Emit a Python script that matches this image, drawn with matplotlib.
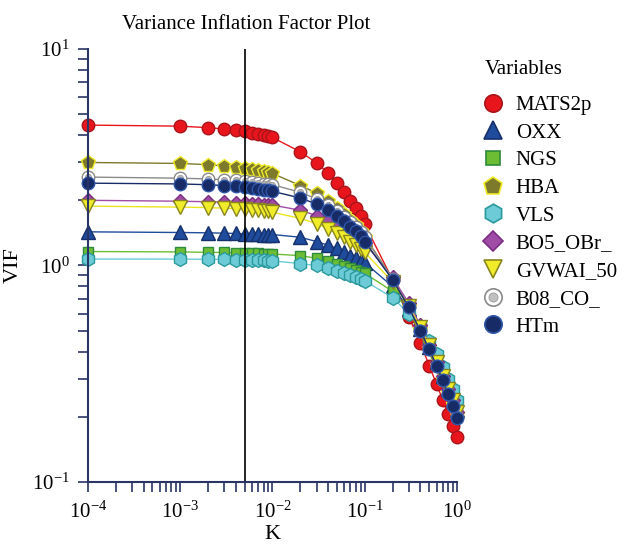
import matplotlib
matplotlib.use('Agg')
import matplotlib.pyplot as plt
from matplotlib.lines import Line2D
from matplotlib.legend_handler import HandlerTuple

plt.rcParams['font.family'] = ['Liberation Serif', 'DejaVu Serif']
plt.rcParams['mathtext.fontset'] = 'custom'
plt.rcParams['mathtext.rm'] = 'Liberation Serif'
plt.rcParams['mathtext.it'] = 'Liberation Serif:italic'

K = [1e-4,
     1e-3, 2e-3, 3e-3, 4e-3, 5e-3, 6e-3, 7e-3, 8e-3, 9e-3,
     1e-2, 2e-2, 3e-2, 4e-2, 5e-2, 6e-2, 7e-2, 8e-2, 9e-2,
     0.1, 0.2, 0.3, 0.4, 0.5, 0.6, 0.7, 0.8, 0.9, 1.0]
k_line = 0.005

names = ['MATS2p', 'OXX', 'NGS', 'HBA', 'VLS', 'BO5_OBr_', 'GVWAI_50', 'B08_CO_', 'HTm']

mats2p = [4.45, 4.40, 4.33, 4.27, 4.22, 4.17, 4.11, 4.06, 4.01, 3.95,
          3.90, 3.35, 2.98, 2.67, 2.40, 2.18, 1.98, 1.84, 1.69,
          1.55, 0.86, 0.58, 0.44, 0.345, 0.283, 0.24, 0.206, 0.182, 0.162]
oxx = [1.43, 1.42, 1.415, 1.41, 1.405, 1.40, 1.40, 1.395, 1.39, 1.39,
       1.39, 1.35, 1.29, 1.24, 1.20, 1.15, 1.11, 1.08, 1.05,
       1.03, 0.80, 0.63, 0.51, 0.42, 0.36, 0.31, 0.27, 0.24, 0.215]
ngs = [1.16, 1.155, 1.15, 1.148, 1.145, 1.142, 1.14, 1.137, 1.135, 1.132,
       1.13, 1.11, 1.08, 1.05, 1.02, 0.99, 0.97, 0.95, 0.93,
       0.92, 0.76, 0.62, 0.51, 0.43, 0.37, 0.32, 0.28, 0.25, 0.225]
hba = [2.99, 2.96, 2.92, 2.88, 2.85, 2.82, 2.78, 2.75, 2.72, 2.69,
       2.66, 2.34, 2.16, 1.98, 1.84, 1.73, 1.62, 1.53, 1.44,
       1.36, 0.87, 0.65, 0.51, 0.42, 0.35, 0.30, 0.26, 0.23, 0.205]
vls = [1.07, 1.07, 1.068, 1.066, 1.064, 1.062, 1.06, 1.057, 1.055, 1.052,
       1.05, 1.02, 1.00, 0.97, 0.945, 0.92, 0.90, 0.88, 0.865,
       0.85, 0.71, 0.60, 0.52, 0.45, 0.39, 0.34, 0.30, 0.27, 0.24]
bo5 = [2.00, 1.98, 1.97, 1.96, 1.95, 1.94, 1.93, 1.92, 1.91, 1.905,
       1.90, 1.80, 1.70, 1.62, 1.55, 1.48, 1.42, 1.37, 1.32,
       1.27, 0.88, 0.67, 0.53, 0.43, 0.36, 0.31, 0.27, 0.24, 0.21]
gvwai = [1.88, 1.86, 1.85, 1.84, 1.83, 1.82, 1.81, 1.80, 1.79, 1.78,
         1.76, 1.65, 1.56, 1.48, 1.41, 1.35, 1.29, 1.24, 1.19,
         1.15, 0.84, 0.65, 0.52, 0.43, 0.36, 0.31, 0.27, 0.24, 0.21]
b08 = [2.56, 2.53, 2.51, 2.49, 2.47, 2.45, 2.43, 2.41, 2.39, 2.37,
       2.36, 2.18, 2.03, 1.90, 1.78, 1.67, 1.58, 1.50, 1.42,
       1.35, 0.87, 0.64, 0.50, 0.41, 0.345, 0.295, 0.255, 0.225, 0.20]
htm = [2.40, 2.38, 2.36, 2.34, 2.32, 2.30, 2.28, 2.26, 2.24, 2.22,
       2.20, 2.05, 1.92, 1.80, 1.70, 1.60, 1.51, 1.44, 1.37,
       1.29, 0.86, 0.64, 0.50, 0.41, 0.345, 0.295, 0.255, 0.225, 0.198]

series = [mats2p, oxx, ngs, hba, vls, bo5, gvwai, b08, htm]

# marker, face, edge, line colour, size in plot, size in legend
styles = [
    ('o', '#e8161c', '#a8141a', '#e8161c', 9, 12.5),
    ('^', '#1f4c9c', '#15306a', '#1f4c9c', 9.5, 12.5),
    ('s', '#6cbd34', '#2e8a3c', '#6cbd34', 7.5, 10),
    ('p', '#7d7a2c', '#f0ec2a', '#7d7a2c', 10, 13.5),
    ('h', '#6ccbd6', '#2a9a9c', '#6ccbd6', 10, 13.5),
    ('D', '#a04ca6', '#7a2e82', '#a04ca6', 7.5, 10.5),
    ('v', '#f0ec2a', '#8a861e', '#e8e41e', 9.5, 12.5),
    ('o', 'white', '#8a8a8a', '#8a8a8a', 9, 12.5),
    ('o', '#172c66', '#2f55a8', '#172c66', 9, 12.5),
]

fig = plt.figure(figsize=(6.26, 5.44), dpi=100)
ax = fig.add_axes([0.1406, 0.114, 0.5894, 0.796])

handles = []
for name, vals, (m, fc, ec, lc, ms, lms) in zip(names, series, styles):
    ax.plot(K, vals, color=lc, lw=1.0, marker=m, ms=ms, mfc=fc, mec=ec,
            mew=1.0, clip_on=False)
    h = Line2D([], [], ls='none', marker=m, ms=lms, mfc=fc, mec=ec, mew=1.2)
    if name == 'B08_CO_':
        ax.plot(K, vals, ls='none', marker='o', ms=4.5, mfc='#b8b8b8',
                mec='#9a9a9a', mew=0.6, clip_on=False)
        dot = Line2D([], [], ls='none', marker='o', ms=6.5, mfc='#c0c0c0',
                     mec='#9a9a9a', mew=0.6)
        h = (h, dot)
    handles.append(h)

ax.axvline(k_line, color='black', lw=1.2)

ax.set_xscale('log')
ax.set_yscale('log')
ax.set_xlim(1e-4, 1.0)
ax.set_ylim(0.1, 10)

navy = '#2a3566'
for s in ['top', 'right']:
    ax.spines[s].set_visible(False)
for s in ['left', 'bottom']:
    ax.spines[s].set_color(navy)
    ax.spines[s].set_linewidth(1.5)
ax.tick_params(which='both', direction='out', color=navy, width=1.2,
               labelsize=15, length=7)
ax.tick_params(axis='x', which='both', pad=7)
ax.tick_params(axis='y', which='both', pad=6)

ax.set_xlabel('K', fontsize=16, labelpad=1.5)
ax.set_ylabel('VIF', fontsize=16, labelpad=7)
fig.text(0.393, 0.955, 'Variance Inflation Factor Plot', fontsize=15,
         ha='center', va='center')

fig.text(485 / 626, 1 - 70 / 544, 'Variables', fontsize=15,
         ha='left', va='center')
leg = fig.legend(handles, names, loc='upper left',
                 bbox_to_anchor=(474 / 626, 1 - 87 / 544), frameon=False,
                 fontsize=15,
                 handler_map={tuple: HandlerTuple(ndivide=1)},
                 handlelength=1.0, handletextpad=0.6, labelspacing=0.39,
                 borderaxespad=0, borderpad=0.4)

fig.savefig('out.png', dpi=100)
